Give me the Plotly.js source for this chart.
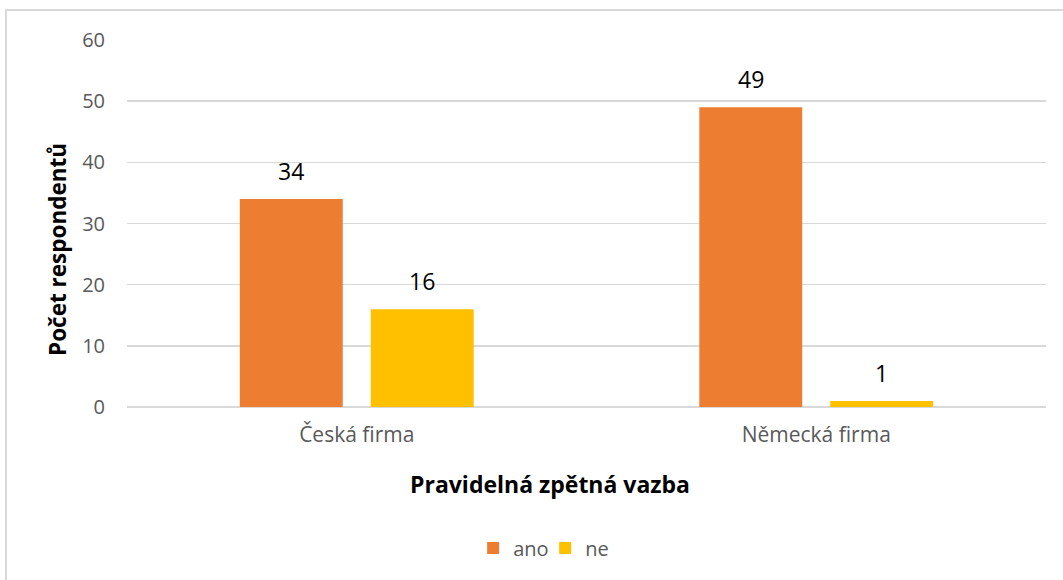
<!DOCTYPE html>
<html>
<head>
<meta charset="utf-8">
<script src="https://cdn.plot.ly/plotly-3.0.1.min.js"></script>
<style>html,body{margin:0;padding:0;background:#fff;}#chart{width:1063px;height:580px;}</style>
</head>
<body>
<div id="chart"></div>
<script>
const categories = ["Česká firma", "Německá firma"];
const seriesNames = ["ano", "ne"];
const anoValues = [34, 49];
const neValues = [16, 1];
const colors = ["#ED7D31", "#FFC000"];
const yTickVals = [0, 10, 20, 30, 40, 50, 60];
const xTitle = "Pravidelná zpětná vazba";
const yTitle = "Počet respondentů";

const FONT = "'Open Sans', Lato, sans-serif";
const allSeries = [anoValues, neValues];

const traces = allSeries.map((vals, i) => ({
  type: "bar",
  name: seriesNames[i],
  x: categories,
  y: vals,
  marker: {color: colors[i]},
  hoverinfo: "x+y+name"
}));

const annotations = [];
allSeries.forEach((vals, i) => {
  vals.forEach((v, j) => {
    annotations.push({
      x: categories[j], y: v, xref: "x", yref: "y",
      text: String(v), showarrow: false,
      xshift: (i === 0 ? -65.5 : 65.5), yshift: 28,
      font: {family: FONT, size: 23, color: "#000000"}
    });
  });
});
annotations.push({
  text: xTitle, xref: "paper", yref: "paper", x: 0.4603, y: -0.2098,
  xanchor: "center", yanchor: "middle", showarrow: false,
  font: {family: FONT, size: 23, color: "#000000", weight: "bold"}
});
annotations.push({
  text: yTitle, xref: "paper", yref: "paper", x: -0.0762, y: 0.4305,
  xanchor: "center", yanchor: "middle", showarrow: false, textangle: -90,
  font: {family: FONT, size: 22.5, color: "#000000", weight: "bold"}
});

const layout = {
  width: 1063, height: 580,
  margin: {l: 127, r: 17, t: 40, b: 173},
  paper_bgcolor: "#ffffff", plot_bgcolor: "#ffffff",
  font: {family: FONT, size: 20, color: "#595959"},
  barmode: "group",
  bargap: 0.43,
  bargroupgap: 0.214,
  showlegend: true,
  legend: {orientation: "h", x: 0.455, xanchor: "center", y: -0.384, yanchor: "middle",
           entrywidth: 27,
           font: {family: FONT, size: 20, color: "#595959"}, traceorder: "normal"},
  xaxis: {
    type: "category", showgrid: false, zeroline: false, showline: false,
    ticks: "", ticklabelstandoff: 13,
    tickfont: {family: FONT, size: 21, color: "#595959"},
    automargin: false
  },
  yaxis: {
    range: [0, 60], tickvals: yTickVals, showgrid: true, gridcolor: "#d9d9d9", gridwidth: 1.5,
    zeroline: true, zerolinecolor: "#d9d9d9", zerolinewidth: 1.5, showline: false,
    ticks: "", ticklabelstandoff: 21,
    tickfont: {family: FONT, size: 20, color: "#595959"},
    automargin: false
  },
  annotations: annotations,
  shapes: [{
    type: "rect", xref: "paper", yref: "paper",
    x0: -0.1317, x1: 1.03, y0: -0.49, y1: 1.0817,
    line: {color: "#d9d9d9", width: 2}, fillcolor: "rgba(0,0,0,0)", layer: "below"
  }]
};

Plotly.newPlot("chart", traces, layout, {displayModeBar: false, staticPlot: true});
</script>
</body>
</html>
